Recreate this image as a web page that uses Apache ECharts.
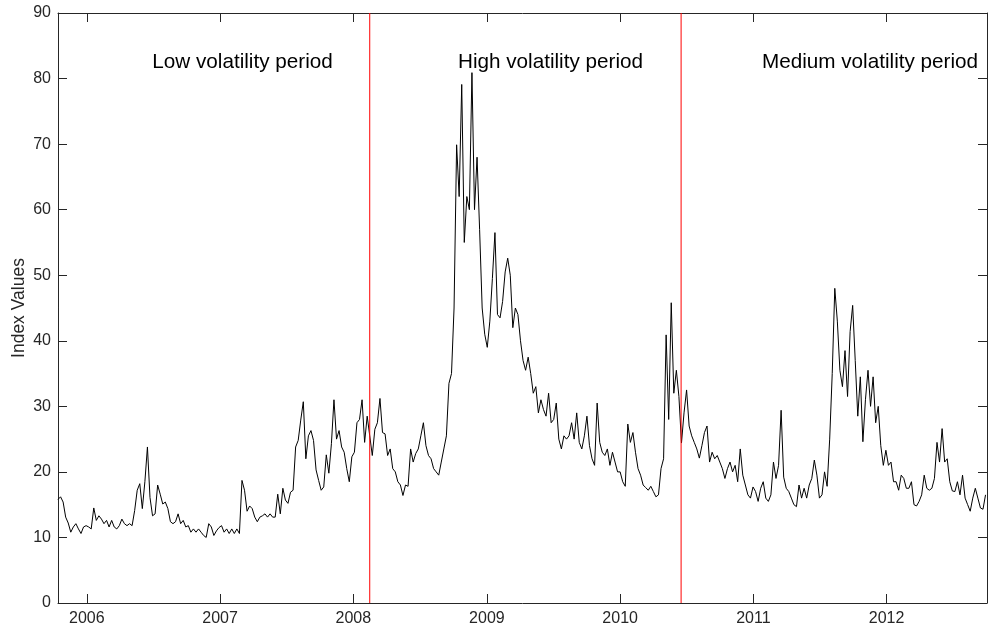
<!DOCTYPE html>
<html>
<head>
<meta charset="utf-8">
<script src="https://cdn.jsdelivr.net/npm/echarts@6/dist/echarts.min.js"></script>
<style>
html,body{margin:0;padding:0;background:#fff;}
#chart{width:988px;height:630px;}
</style>
</head>
<body>
<div id="chart"></div>
<script>
// Weekly (Friday) index values, one array per calendar year
const firstWeek = '2005-10-14';
const v2005 = [15.8, 16.2, 15.4, 13.1, 12.2, 10.8, 11.6, 12.1, 11.3, 10.6, 11.6, 11.8];
const v2006 = [11.6, 11.3, 14.5, 12.6, 13.3, 12.8, 12.1, 12.6, 11.6, 12.6,
               11.6, 11.3, 11.8, 12.8, 12.1, 11.8, 12.1, 11.8, 14.1, 17.2,
               18.2, 14.4, 18.5, 23.8, 16.1, 13.3, 13.6, 18.0, 16.6, 15.1,
               15.4, 14.4, 12.4, 12.1, 12.4, 13.6, 12.1, 12.6, 11.6, 11.8,
               10.8, 11.3, 10.8, 11.3, 10.8, 10.3, 10.0, 12.1, 11.6, 10.3,
               11.0, 11.5];
const v2007 = [11.8, 10.8, 11.3, 10.6, 11.3, 10.6, 11.3, 10.6, 18.7, 17.2,
               14.0, 14.8, 14.4, 13.1, 12.4, 13.1, 13.3, 13.6, 13.1, 13.6,
               13.1, 13.1, 16.6, 13.6, 17.5, 15.7, 15.2, 16.9, 17.2, 23.8,
               24.8, 27.9, 30.7, 22.0, 25.5, 26.3, 24.8, 20.3, 18.7, 17.2,
               17.7, 22.6, 19.8, 24.3, 31.0, 25.0, 26.3, 23.8, 23.0, 20.5,
               18.5, 22.3];
const v2008 = [23.0, 27.5, 28.0, 31.0, 24.5, 28.5, 25.5, 22.5, 26.5, 27.5,
               31.2, 26.0, 25.8, 22.5, 23.5, 20.5, 20.0, 18.5, 18.0, 16.4,
               18.0, 17.8, 23.5, 21.5, 22.8, 23.5, 25.5, 27.5, 24.0, 22.5,
               22.0, 20.5, 20.0, 19.5, 21.5, 23.5, 25.5, 33.5, 35.0, 45.0,
               69.9, 62.0, 79.1, 55.0, 62.0, 60.0, 80.9, 60.0, 68.0, 57.0,
               45.0, 41.0];
const v2009 = [39.0, 43.0, 49.5, 56.5, 44.0, 43.5, 46.0, 50.5, 52.6, 50.0,
               42.0, 45.0, 44.0, 40.0, 37.0, 35.5, 37.5, 35.0, 32.0, 33.0,
               29.0, 31.0, 29.5, 28.5, 32.0, 27.5, 28.0, 30.5, 25.0, 23.5,
               25.5, 25.0, 25.5, 27.5, 25.0, 29.0, 24.5, 23.5, 25.5, 28.5,
               24.0, 22.0, 21.0, 30.5, 24.5, 23.0, 22.5, 23.5, 21.0, 23.0,
               21.5, 20.0];
const v2010 = [20.0, 18.5, 17.8, 27.3, 24.5, 26.0, 23.0, 20.5, 19.5, 18.0,
               17.6, 17.2, 17.8, 17.0, 16.2, 16.5, 20.5, 22.0, 40.9, 28.0,
               45.8, 32.0, 35.5, 31.5, 24.4, 29.0, 32.5, 27.0, 25.5, 24.5,
               23.5, 22.1, 24.0, 26.0, 27.0, 21.5, 23.0, 22.0, 22.5, 21.5,
               20.5, 19.0, 20.5, 21.5, 20.0, 21.0, 18.5, 23.5, 19.5, 18.0,
               16.5, 16.0, 17.7];
const v2011 = [17.0, 15.5, 17.5, 18.5, 16.0, 15.5, 16.5, 21.5, 19.0, 21.0,
               29.4, 19.2, 17.5, 17.0, 16.0, 15.0, 14.7, 18.0, 16.0, 17.5,
               16.0, 18.0, 19.0, 21.8, 19.5, 16.0, 16.5, 20.0, 17.8, 25.0,
               35.0, 48.0, 43.0, 35.5, 33.0, 38.5, 31.5, 41.4, 45.4, 37.0,
               28.5, 34.5, 24.6, 31.0, 35.5, 30.0, 34.5, 27.5, 30.0, 24.0,
               21.0, 23.3];
const v2012 = [21.0, 21.5, 18.5, 18.5, 17.2, 19.5, 19.0, 17.5, 17.5, 18.5,
               15.0, 14.8, 15.5, 16.5, 19.5, 17.5, 17.2, 17.5, 19.0, 24.5,
               21.5, 26.6, 21.5, 22.0, 18.5, 17.1, 17.0, 18.5, 16.5, 19.5,
               16.0, 15.0, 14.0, 16.0, 17.5, 16.0, 14.5, 14.3, 16.5];

const yearTickLabels = ['2006', '2007', '2008', '2009', '2010', '2011', '2012'];
const periodBreaks = ['2008-02-15', '2010-06-17'];
const periodNames = ['Low volatility period', 'High volatility period', 'Medium volatility period'];
const axisStart = '2005-10-14';
const axisEnd = '2012-10-02';
const yMin = 0, yMax = 90, yStep = 10;

function ts(s) { const p = s.split('-').map(Number); return Date.UTC(p[0], p[1] - 1, p[2]); }
const DAY = 86400000;
const allValues = [].concat(v2005, v2006, v2007, v2008, v2009, v2010, v2011, v2012);
const t0 = ts(firstWeek);
const seriesData = allValues.map((v, i) => [t0 + i * 7 * DAY, v]);
const yearTicks = yearTickLabels.map(y => Date.UTC(Number(y), 0, 1));

const axisColor = '#262626';
const fontFam = '"Liberation Sans", Arial, Helvetica, sans-serif';

const chart = echarts.init(document.getElementById('chart'), null, {renderer: 'canvas'});

function xAx(pos, showLabel) {
  return {
    type: 'value', position: pos, min: ts(axisStart), max: ts(axisEnd), scale: true,
    axisLine: {show: true, onZero: false, lineStyle: {color: axisColor, width: 1}},
    axisTick: {show: true, inside: true, length: 9, customValues: yearTicks, lineStyle: {color: axisColor, width: 1}},
    axisLabel: {show: showLabel, customValues: yearTicks, margin: 8, color: axisColor, fontSize: 16, fontFamily: fontFam,
      formatter: v => String(new Date(v).getUTCFullYear())},
    splitLine: {show: false}, minorTick: {show: false}
  };
}
function yAx(pos, showLabel) {
  const o = {
    type: 'value', position: pos, min: yMin, max: yMax, interval: yStep,
    axisLine: {show: true, onZero: false, lineStyle: {color: axisColor, width: 1}},
    axisTick: {show: true, inside: true, length: 9, lineStyle: {color: axisColor, width: 1}},
    axisLabel: {show: showLabel, margin: 7, color: axisColor, fontSize: 16, fontFamily: fontFam},
    splitLine: {show: false}
  };
  if (showLabel) {
    o.name = 'Index Values';
    o.nameLocation = 'middle';
    o.nameGap = 29.5;
    o.nameMoveOverlap = false;
    o.nameTextStyle = {color: axisColor, fontSize: 17.5, fontFamily: fontFam};
  }
  return o;
}

const labelCenters = [242.5, 550.5, 870];

const breakSeries = periodBreaks.map(d => ({
  type: 'line', xAxisIndex: 0, yAxisIndex: 0, silent: true,
  data: [[ts(d), yMin], [ts(d), yMax]], showSymbol: false, symbol: 'none',
  lineStyle: {color: '#ff0000', width: 1}, itemStyle: {color: '#ff0000'}, z: 3
}));

chart.setOption({
  animation: false,
  backgroundColor: '#ffffff',
  grid: {left: 58, right: 1, top: 13, bottom: 27, containLabel: false, outerBoundsMode: 'none'},
  xAxis: [xAx('bottom', true), xAx('top', false)],
  yAxis: [yAx('left', true), yAx('right', false)],
  series: [{
    type: 'line', xAxisIndex: 0, yAxisIndex: 0,
    data: seriesData, showSymbol: false, symbol: 'none',
    lineStyle: {color: '#000000', width: 1}, itemStyle: {color: '#000000'}, silent: true, z: 2
  }].concat(breakSeries),
  graphic: periodNames.map((t, i) => ({
    type: 'text', x: labelCenters[i], y: 62, silent: true,
    style: {text: t, align: 'center', verticalAlign: 'middle', fill: '#000000',
      font: '20.7px ' + fontFam}
  }))
});
</script>
</body>
</html>
